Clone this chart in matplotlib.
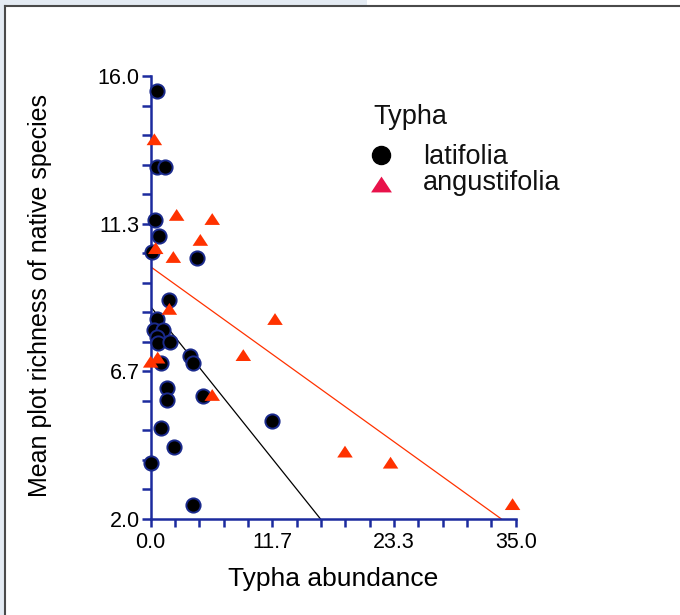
import numpy as np
import matplotlib
matplotlib.use("Agg")
import matplotlib.pyplot as plt
from matplotlib.lines import Line2D
from matplotlib.patches import Rectangle

plt.rcParams['font.family'] = ['Liberation Sans', 'DejaVu Sans']

# ---- data ----
latifolia_x = [0.6, 0.58, 1.37, 0.41, 0.8, 0.15, 4.47, 1.75, 0.57, 0.35, 1.21, 0.57,
               0.67, 1.85, 3.77, 4.09, 0.99, 1.53, 1.53, 5.0, 11.6, 0.99, 2.26, 0.0, 4.03]
latifolia_y = [15.54, 13.13, 13.13, 11.45, 10.95, 10.45, 10.26, 8.92, 8.32, 7.97, 7.97, 7.76,
               7.55, 7.6, 7.16, 6.92, 6.92, 6.15, 5.76, 5.9, 5.11, 4.89, 4.29, 3.76, 2.43]
angustifolia_x = [0.35, 2.49, 5.9, 4.76, 0.48, 2.17, 1.79, 11.92, 8.88, 0.67, 0.0, 5.9,
                  18.63, 23.0, 34.7]
angustifolia_y = [14.0, 11.61, 11.48, 10.82, 10.56, 10.28, 8.64, 8.32, 7.18, 7.1, 6.97, 5.92,
                  4.13, 3.78, 2.47]

# fitted regression lines (intercept, slope)
lat_fit = (8.71, -0.412)
ang_fit = (9.97, -0.237)

x_ticks = np.linspace(0, 35, 16)
y_ticks = np.linspace(2, 16, 16)

W, H = 680, 615
fig = plt.figure(figsize=(W / 100, H / 100), dpi=100)
fig.patch.set_facecolor('white')

bg = '#e4ebf3'
fig.add_artist(Rectangle((0, 1 - 5 / H), 367 / W, 5 / H, transform=fig.transFigure,
                         facecolor=bg, edgecolor='none'))
fig.add_artist(Rectangle((0, 0), 4 / W, 1, transform=fig.transFigure,
                         facecolor=bg, edgecolor='none'))
fig.add_artist(Line2D([4.5 / W, 1], [1 - 5.5 / H, 1 - 5.5 / H], transform=fig.transFigure,
                      color='#4a4a4a', lw=1.5))
fig.add_artist(Line2D([4.5 / W, 4.5 / W], [0, 1 - 5.5 / H], transform=fig.transFigure,
                      color='#4a4a4a', lw=1.5))

x0, x1 = 150.7, 515.7
y0, y1 = 519, 76
ax = fig.add_axes([x0 / W, 1 - y0 / H, (x1 - x0) / W, (y0 - y1) / H])
ax.set_xlim(0, 35)
ax.set_ylim(2, 16)
ax.patch.set_alpha(0)

axis_col = '#1c2b9e'
for s in ['top', 'right']:
    ax.spines[s].set_visible(False)
for s in ['left', 'bottom']:
    ax.spines[s].set_color(axis_col)
    ax.spines[s].set_linewidth(1.8)

ax.set_xticks(x_ticks)
ax.set_xticklabels([f'{v:.1f}' if i % 5 == 0 else '' for i, v in enumerate(x_ticks)])
ax.set_yticks(y_ticks)
ax.set_yticklabels([f'{v:.1f}' if i % 5 == 0 else '' for i, v in enumerate(y_ticks)])
ax.tick_params(axis='both', colors=axis_col, labelcolor='black', width=1.8, labelsize=15.5)
ax.tick_params(axis='y', length=6.5, pad=1.5)
ax.tick_params(axis='x', length=5.5, pad=4)

# regression lines
for (b, m), c in [(lat_fit, 'black'), (ang_fit, '#ff3200')]:
    xe = (b - 2) / (-m)
    xs = np.array([0, xe])
    ax.plot(xs, b + m * xs, color=c, lw=0.9, zorder=2)

ax.scatter(latifolia_x, latifolia_y, s=105, marker='o', facecolor='black',
           edgecolor='#1a2a8c', linewidths=1.4, zorder=3, clip_on=False)
tri = [(-1, -0.76), (1, -0.76), (0, 0.76)]
ax.scatter(angustifolia_x, angustifolia_y, s=125, marker=tri, facecolor='#ff3200',
           edgecolor='none', zorder=4, clip_on=False)

# axis labels
fig.text(333 / W, 1 - 586 / H, 'Typha abundance', ha='center', va='baseline', fontsize=19)
fig.text(40 / W, 1 - 295 / H, 'Mean plot richness of native species', ha='center',
         va='center', rotation=90, fontsize=18)

# legend
fs_leg = 19.5
fig.text(373 / W, 1 - 124 / H, 'Typha', ha='left', va='baseline', fontsize=fs_leg, color='#111111')
fig.text(423 / W, 1 - 164 / H, 'latifolia', ha='left', va='baseline', fontsize=fs_leg, color='#111111')
fig.text(423 / W, 1 - 190 / H, 'angustifolia', ha='left', va='baseline', fontsize=fs_leg, color='#111111')
fig.add_artist(Line2D([381 / W], [1 - 155 / H], transform=fig.transFigure, marker='o',
                      markersize=13, color='black', markeredgecolor='black'))
fig.add_artist(Line2D([381 / W], [1 - 184 / H], transform=fig.transFigure, marker=tri,
                      markersize=15, color='#e8124a', markeredgecolor='none'))

fig.savefig('out.png', dpi=100, facecolor=fig.get_facecolor())
